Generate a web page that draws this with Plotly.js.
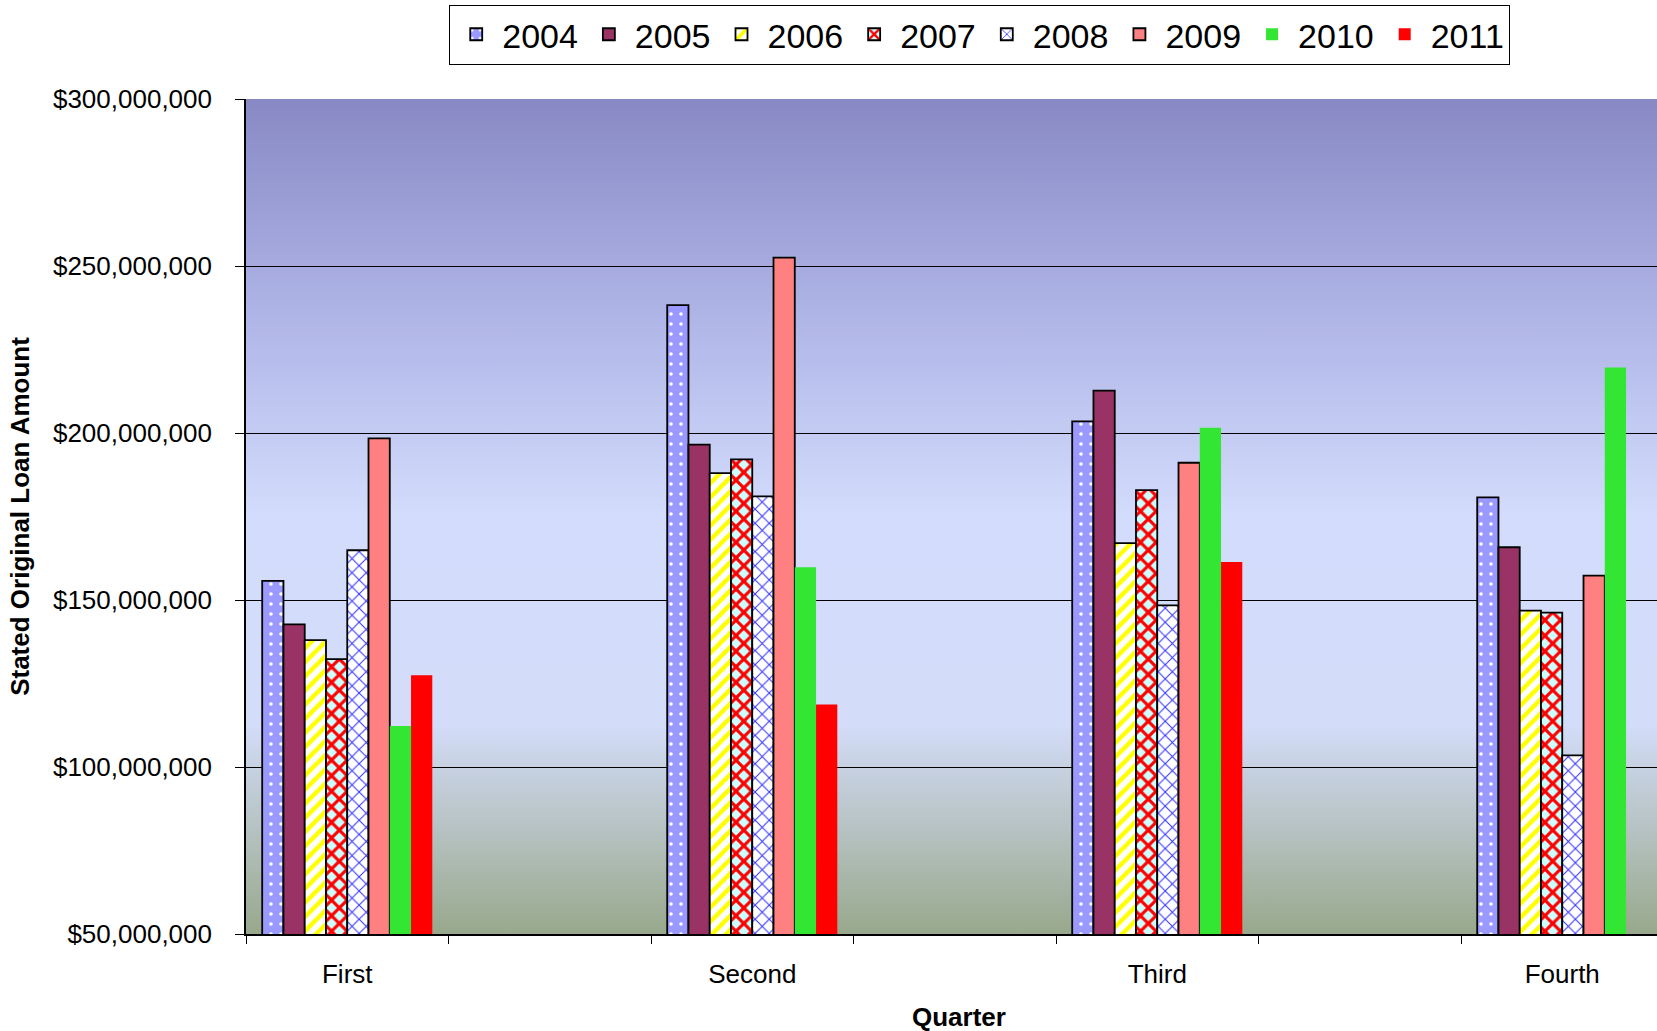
<!DOCTYPE html>
<html><head><meta charset="utf-8">
<script src="https://cdn.plot.ly/plotly-3.0.1.min.js"></script>
<style>html,body{margin:0;padding:0;overflow:hidden;width:1657px;height:1031px;background:#fff}</style>
</head><body><div id="c"></div>
<script>
const quarters = ["First","Second","Third","Fourth"];
const years = ["2004","2005","2006","2007","2008","2009","2010","2011"];
const v2004 = [155.7,238.3,203.5,180.7];
const v2005 = [142.7,196.5,212.7,165.8];
const v2006 = [138.0,188.0,167.0,146.8];
const v2007 = [132.3,192.1,182.9,146.2];
const v2008 = [164.9,181.0,148.4,103.5];
const v2009 = [198.4,252.5,191.1,157.3];
const v2010 = [112.3,159.8,201.6,219.6];
const v2011 = [127.5,118.7,161.4,null];
const series = [v2004,v2005,v2006,v2007,v2008,v2009,v2010,v2011];
const styles = [
 {color:'#9999FF',line:1.8,pattern:{shape:'.',fgcolor:'#ffffff',bgcolor:'#9999FF',size:10,solidity:0.1}},
 {color:'#993366',line:1.8},
 {color:'#ffffff',line:1.8,pattern:{shape:'/',fgcolor:'#FFFF00',bgcolor:'#ffffff',size:10,solidity:0.45}},
 {color:'#CCFFFF',line:1.8,pattern:{shape:'x',fgcolor:'#FF0000',bgcolor:'#CCFFFF',size:11,solidity:0.5}},
 {color:'#ffffff',line:1.8,pattern:{shape:'x',fgcolor:'#3333FF',bgcolor:'#ffffff',size:10,solidity:0.2}},
 {color:'#FF8080',line:1.8},
 {color:'#33E633',line:0},
 {color:'#FF0000',line:0}
];
const xs = [0,2,4,6];
const traces = years.map((y,i)=>{
  const s=styles[i];
  const m={color:s.color,line:{color:'#000',width:s.line}};
  if(s.pattern) m.pattern=s.pattern;
  return {type:'bar',name:y,x:xs,y:series[i].map(v=>v==null?null:v*1e6),marker:m};
});
traces.push({type:'scatter',x:[0],y:[null],xaxis:'x2',showlegend:false,hoverinfo:'skip'});
const svg = `<svg xmlns='http://www.w3.org/2000/svg' width='10' height='100' preserveAspectRatio='none'><defs><linearGradient id='g' x1='0' y1='0' x2='0' y2='1'><stop offset='0' stop-color='#8889C4'/><stop offset='0.25' stop-color='#AEB3E6'/><stop offset='0.5' stop-color='#D3DCFC'/><stop offset='0.75' stop-color='#D3DCF8'/><stop offset='1' stop-color='#98A88C'/></linearGradient></defs><rect width='10' height='100' fill='url(#g)'/></svg>`;
const xr = [-0.5, -0.5 + 1411/202.5];
const layout = {
  width:1657,height:1031,
  margin:{l:246,r:0,t:99,b:97},
  paper_bgcolor:'#fff',plot_bgcolor:'rgba(0,0,0,0)',
  font:{family:'Liberation Sans, Arial, sans-serif',color:'#000'},
  barmode:'group',bargap:0.58,bargroupgap:0,
  images:[{source:'data:image/svg+xml;charset=utf-8,'+encodeURIComponent(svg),xref:'paper',yref:'paper',x:0,y:1,sizex:1,sizey:1,sizing:'stretch',layer:'below'}],
  xaxis:{range:xr,tickvals:xs,ticktext:quarters,ticks:'',showgrid:false,zeroline:false,
    showline:true,linecolor:'#000',linewidth:1.8,tickfont:{size:26},ticklabelstandoff:16},
  xaxis2:{overlaying:'x',range:xr,tickvals:[-0.5,0.5,1.5,2.5,3.5,4.5,5.5,6.5],showticklabels:false,
    ticks:'outside',ticklen:9,tickcolor:'#000',showgrid:false,zeroline:false,side:'bottom',anchor:'y'},
  yaxis:{range:[50e6,300e6],dtick:50e6,tickformat:'$,.0f',showgrid:true,gridcolor:'#000',gridwidth:1,
    ticks:'outside',ticklen:9,tickcolor:'#000',showline:true,linecolor:'#000',linewidth:1.8,zeroline:false,
    tickfont:{size:26},ticklabelstandoff:18,
    title:{text:'<b>Stated Original Loan Amount</b>',font:{size:26},standoff:16}},
  legend:{orientation:'h',x:0.52,xanchor:'center',y:1.113,yanchor:'top',bordercolor:'#000',borderwidth:1,
    bgcolor:'#fff',font:{size:34},itemwidth:42,tracegroupgap:0,traceorder:'normal'},
  annotations:[{text:'<b>Quarter</b>',xref:'paper',yref:'paper',x:0.505,y:-0.099,xanchor:'center',yanchor:'middle',showarrow:false,font:{size:26}}],
  showlegend:true
};
Plotly.newPlot('c',traces,layout,{displayModeBar:false,staticPlot:true});
</script></body></html>
